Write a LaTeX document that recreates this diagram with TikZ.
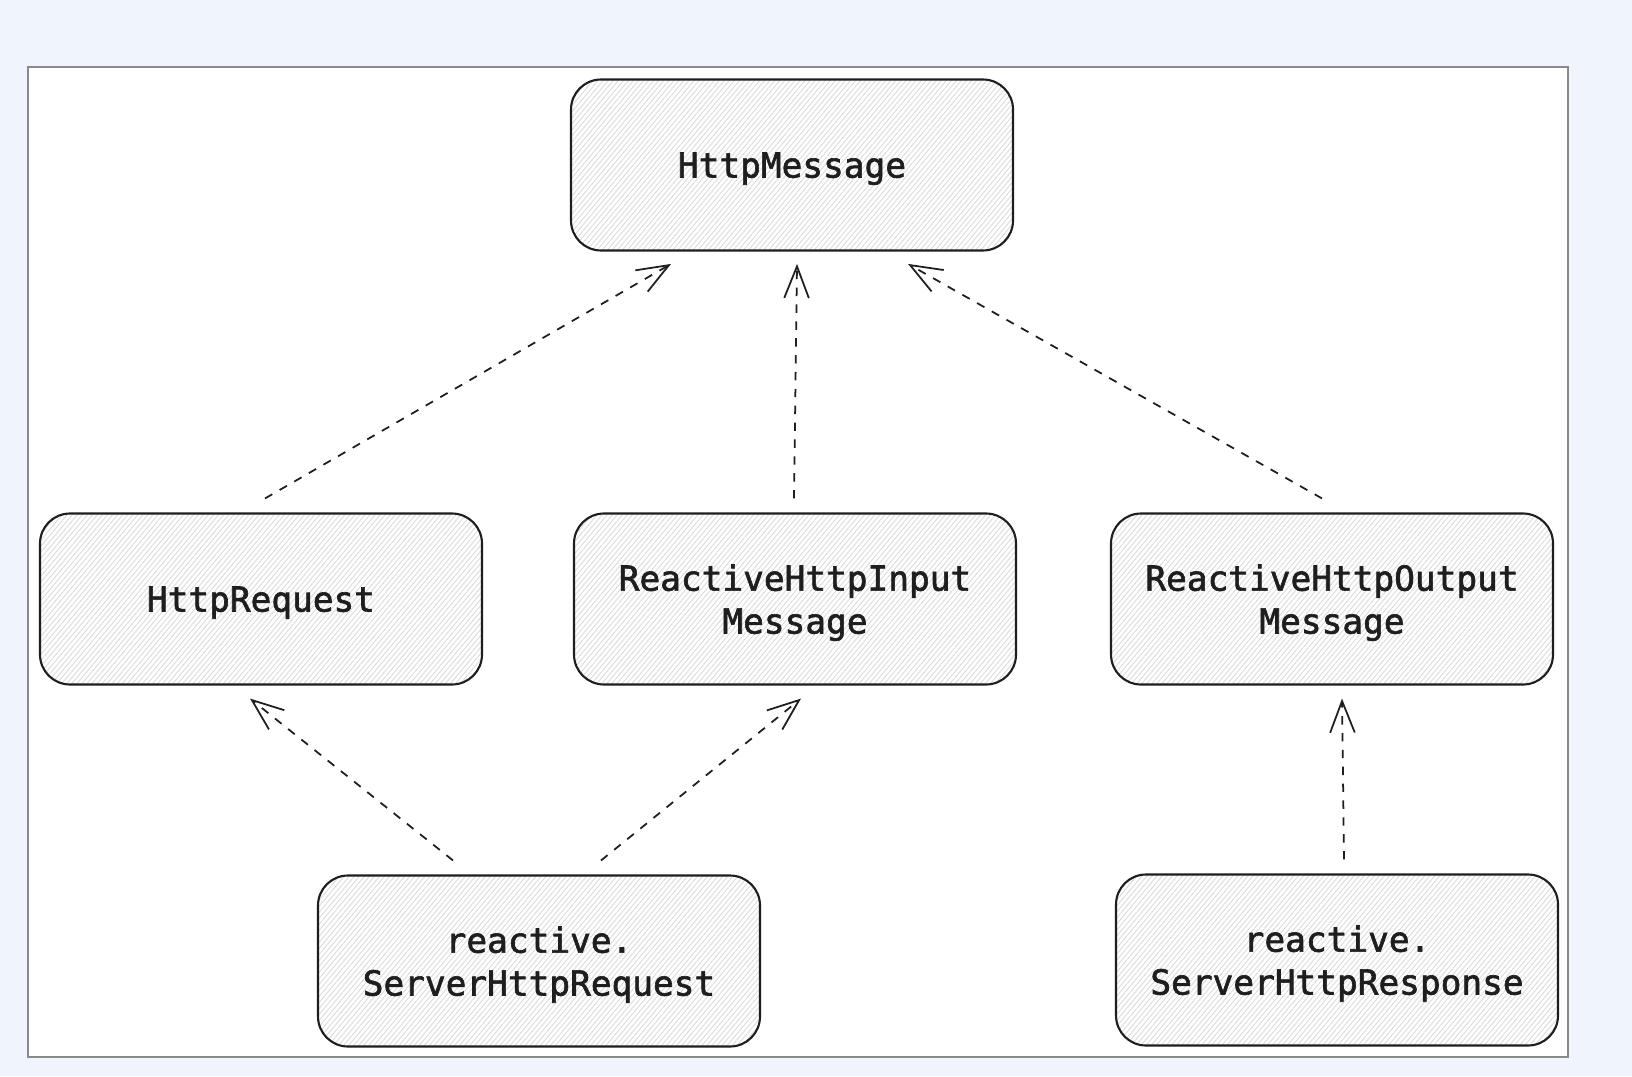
\documentclass[tikz,border=0pt]{standalone}
\usepackage{fontspec}
\usepackage{tikz}
\usetikzlibrary{arrows.meta,patterns.meta}
\newfontfamily\boxfont[FakeBold=1.8]{DejaVu Sans Mono}
\definecolor{pagebg}{RGB}{239,244,253}
\definecolor{framegray}{RGB}{138,138,138}
\definecolor{inkblack}{RGB}{30,30,30}
\tikzset{
    classbox/.style={rectangle, rounded corners=0.3cm,
        minimum width=4.42cm, minimum height=1.71cm,
        draw=inkblack, line width=0.6pt,
        pattern={Lines[angle=50, distance=1.1pt, line width=0.25pt]},
        pattern color=black!14,
        align=center, text=inkblack, text depth=0pt,
        font=\boxfont\fontsize{9.8}{12.2}\selectfont},
    realizes/.style={-{Straight Barb[length=9pt, width=7pt]},
        dash pattern=on 2.4pt off 2.4pt, line width=0.5pt, inkblack}
}

\begin{document}
\begin{tikzpicture}

% Page and frame
\fill[pagebg] (0,0) rectangle (16.32,10.76);
\draw[framegray, line width=0.6pt, fill=white] (0.28,0.19) rectangle (15.68,10.09);

% Top class
\node[classbox] (HttpMessage) at (7.92,9.11) {HttpMessage};

% Middle classes
\node[classbox] (HttpRequest) at (2.61,4.77) {HttpRequest};
\node[classbox] (InputMessage) at (7.95,4.77) {ReactiveHttpInput\\Message};
\node[classbox] (OutputMessage) at (13.32,4.77) {ReactiveHttpOutput\\Message};

% Bottom classes
\node[classbox] (ServerRequest) at (5.39,1.15) {reactive.\\ServerHttpRequest};
\node[classbox] (ServerResponse) at (13.37,1.16) {reactive.\\ServerHttpResponse};

% Dashed arrows up to the parents
\foreach \from/\fx/\to/\tx in {HttpRequest/0.04/HttpMessage/-1.21,
    InputMessage/-0.01/HttpMessage/0.05,
    OutputMessage/-0.10/HttpMessage/1.16,
    ServerRequest/-0.86/HttpRequest/-0.11,
    ServerRequest/0.62/InputMessage/0.06,
    ServerResponse/0.07/OutputMessage/0.10}
{
    \draw[realizes] ([xshift=\fx cm, yshift=1.4mm]\from.north)
        -- ([xshift=\tx cm, yshift=-1.3mm]\to.south);
}

\end{tikzpicture}
\end{document}
